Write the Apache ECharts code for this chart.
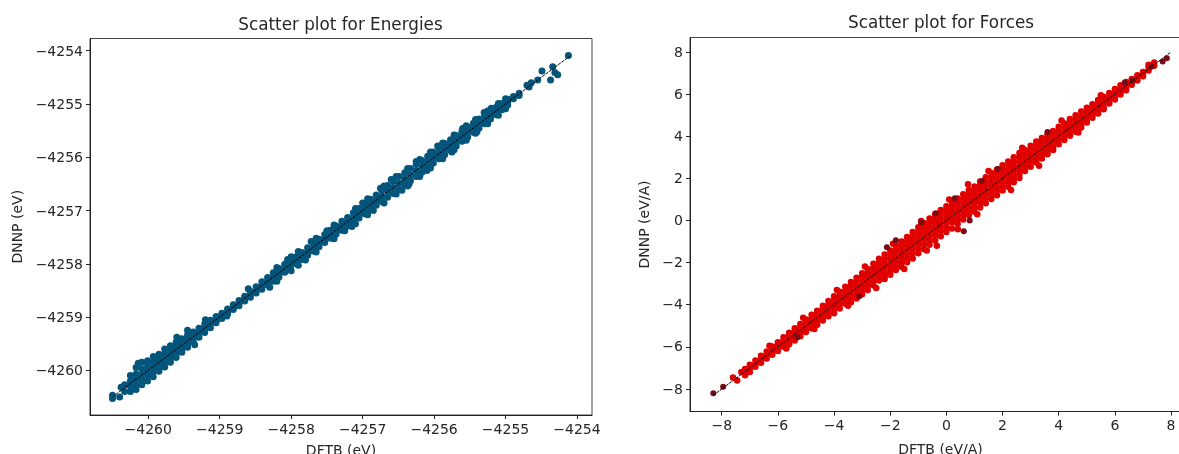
<!DOCTYPE html>
<html><head><meta charset="utf-8">
<style>html,body{margin:0;padding:0;background:#fff;overflow:hidden}#c{width:1179px;height:454px;filter:blur(0.35px)}</style>
<script src="https://cdn.jsdelivr.net/npm/echarts@6/dist/echarts.min.js"></script>
</head><body><div id="c"></div>
<script>
const energyTicksX=[-4260,-4259,-4258,-4257,-4256,-4255,-4254];
const energyTicksY=[-4260,-4259,-4258,-4257,-4256,-4255,-4254];
const forceTicks=[-8,-6,-4,-2,0,2,4,6,8];
const energyLine=[[-4260.5,-4260.5],[-4254.1,-4254.1]];
const forceLine=[[-8.3,-8.3],[8,8]];
const energyColumns=[
[-4260.50,[-4260.47,-4260.53]],[-4260.40,[-4260.50]],[-4260.38,[-4260.32]],[-4260.33,[-4260.40,-4260.27]],
[-4260.25,[-4260.10,-4260.20,-4260.30,-4260.40]],[-4260.17,[-4259.95,-4260.07,-4260.17,-4260.27,-4260.36]],
[-4260.09,[-4259.85,-4259.97,-4260.08,-4260.18,-4260.27]],[-4260.01,[-4259.82,-4259.92,-4260.01,-4260.10,-4260.20]],
[-4259.93,[-4259.74,-4259.84,-4259.93,-4260.03,-4260.12]],[-4259.85,[-4259.70,-4259.78,-4259.85,-4259.95,-4260.02]],
[-4259.77,[-4259.60,-4259.69,-4259.77,-4259.86,-4259.94]],[-4259.69,[-4259.54,-4259.62,-4259.70,-4259.78,-4259.85]],
[-4259.61,[-4259.47,-4259.55,-4259.62,-4259.70,-4259.76]],[-4259.53,[-4259.41,-4259.47,-4259.54,-4259.61,-4259.66]],
[-4259.45,[-4259.34,-4259.39,-4259.46,-4259.52,-4259.57]],[-4259.37,[-4259.28,-4259.37,-4259.46]],
[-4259.29,[-4259.21,-4259.29,-4259.38]],[-4259.21,[-4259.13,-4259.21,-4259.29]],[-4259.13,[-4259.06,-4259.13,-4259.20]],
[-4259.05,[-4258.99,-4259.06,-4259.11]],[-4258.97,[-4258.93,-4258.98,-4259.03]],[-4258.89,[-4258.85,-4258.90,-4258.94]],
[-4258.81,[-4258.77,-4258.82,-4258.86]],[-4258.73,[-4258.69,-4258.74,-4258.79]],[-4258.65,[-4258.61,-4258.66,-4258.70]],
[-4258.57,[-4258.52,-4258.57,-4258.63]],[-4258.49,[-4258.43,-4258.49,-4258.55]],[-4258.41,[-4258.34,-4258.41,-4258.48]],
[-4258.33,[-4258.26,-4258.33,-4258.40]],[-4258.25,[-4258.17,-4258.25,-4258.33]],[-4258.17,[-4258.09,-4258.17,-4258.25]],
[-4258.09,[-4258.01,-4258.09,-4258.16]],[-4258.01,[-4257.94,-4258.01,-4258.08]],[-4257.93,[-4257.87,-4257.93,-4258.00]],
[-4257.85,[-4257.79,-4257.85,-4257.92]],[-4257.77,[-4257.70,-4257.78,-4257.84]],[-4257.69,[-4257.60,-4257.69,-4257.76]],
[-4257.61,[-4257.54,-4257.61,-4257.68]],[-4257.53,[-4257.45,-4257.53,-4257.60]],[-4257.45,[-4257.37,-4257.45,-4257.52]],
[-4257.37,[-4257.29,-4257.37,-4257.44]],[-4257.29,[-4257.20,-4257.29,-4257.37]],[-4257.21,[-4257.13,-4257.21,-4257.29]],
[-4257.13,[-4257.04,-4257.13,-4257.21]],[-4257.05,[-4256.96,-4257.05,-4257.14]],[-4256.97,[-4256.87,-4256.97,-4257.06]],
[-4256.89,[-4256.79,-4256.89,-4256.98]],[-4256.81,[-4256.71,-4256.81,-4256.90]],[-4256.73,[-4256.62,-4256.73,-4256.83]],
[-4256.65,[-4256.53,-4256.64,-4256.75]],[-4256.57,[-4256.45,-4256.57,-4256.68]],[-4256.49,[-4256.36,-4256.49,-4256.60]],
[-4256.41,[-4256.29,-4256.41,-4256.52]],[-4256.33,[-4256.21,-4256.33,-4256.44]],[-4256.25,[-4256.13,-4256.25,-4256.36]],
[-4256.17,[-4256.06,-4256.17,-4256.28]],[-4256.09,[-4255.98,-4256.09,-4256.19]],[-4256.01,[-4255.90,-4256.01,-4256.11]],
[-4255.93,[-4255.82,-4255.93,-4256.03]],[-4255.85,[-4255.74,-4255.85,-4255.95]],[-4255.77,[-4255.67,-4255.77,-4255.87]],
[-4255.69,[-4255.59,-4255.69,-4255.79]],[-4255.61,[-4255.51,-4255.61,-4255.70]],[-4255.53,[-4255.43,-4255.53,-4255.62]],
[-4255.45,[-4255.36,-4255.45,-4255.53]],[-4255.37,[-4255.28,-4255.37,-4255.45]],[-4255.29,[-4255.21,-4255.29,-4255.37]],
[-4255.21,[-4255.13,-4255.21,-4255.28]],[-4255.13,[-4255.06,-4255.13,-4255.20]],[-4255.05,[-4254.99,-4255.05,-4255.11]],
[-4254.97,[-4254.91,-4254.97,-4255.02]],[-4254.89,[-4254.86,-4254.90]],[-4254.81,[-4254.80,-4254.84]],
[-4254.70,[-4254.65]],[-4254.67,[-4254.68]],[-4254.64,[-4254.60]],[-4254.55,[-4254.55]],[-4254.49,[-4254.38]],
[-4254.37,[-4254.55]],[-4254.34,[-4254.30]],[-4254.31,[-4254.41]],[-4254.27,[-4254.45]],[-4254.12,[-4254.09]],
[-4259.6,[-4259.38]],[-4259.35,[-4259.52]],[-4259.45,[-4259.25]],[-4259.2,[-4259.05]],[-4258.9,[-4258.98]],[-4258.6,[-4258.47]],
[-4258.3,[-4258.44]],[-4258.05,[-4257.92]],[-4257.8,[-4257.93]],[-4257.72,[-4257.58]],[-4257.5,[-4257.38]],[-4257.25,[-4257.38]],
[-4257.15,[-4257.3]],[-4257.0,[-4256.86]],[-4256.85,[-4257.0]],[-4256.75,[-4256.58]],[-4256.6,[-4256.42]],[-4256.45,[-4256.62]],
[-4256.35,[-4256.5]],[-4256.25,[-4256.08]],[-4256.1,[-4256.25]],[-4255.95,[-4255.79]],[-4255.75,[-4255.9]],[-4255.6,[-4255.46]],
[-4255.4,[-4255.52]],[-4255.3,[-4255.16]],[-4255.2,[-4255.08]],[-4260.14,[-4259.87]],
[-4258.2,[-4258.07,-4258.33]],[-4258.0,[-4257.87,-4258.13]],[-4257.9,[-4257.77,-4258.03]],[-4257.65,[-4257.52,-4257.78]],
[-4257.4,[-4257.27,-4257.53]],[-4257.1,[-4256.96,-4257.25]],[-4256.93,[-4256.78,-4257.08]],[-4256.7,[-4256.54,-4256.86]],
[-4256.53,[-4256.36,-4256.69]],[-4256.37,[-4256.21,-4256.54]],[-4256.2,[-4256.04,-4256.36]],[-4256.05,[-4255.9,-4256.2]],
[-4255.88,[-4255.73,-4256.03]],[-4255.72,[-4255.58,-4255.86]],[-4255.55,[-4255.41,-4255.68]],[-4255.42,[-4255.29,-4255.55]],
[-4255.25,[-4255.13,-4255.37]],[-4255.1,[-4254.99,-4255.21]],[-4255.0,[-4254.9,-4255.09]]
];
const forceColumns=[
[-7.6,[-7.45]],[-7.45,[-7.6]],[-7.3,[-7.2]],[-7.17,[-7.05,-7.25,-7.35]],[-7.0,[-6.85,-7.0,-7.2]],[-6.8,[-6.65,-6.8,-6.95]],
[-6.6,[-6.42,-6.6,-6.75]],[-6.4,[-6.22,-6.4,-6.55]],[-6.2,[-5.98,-6.12,-6.25,-6.38]],[-6.0,[-5.78,-5.92,-6.05,-6.2]],
[-5.8,[-5.55,-5.7,-5.85,-6.0]],[-5.6,[-5.33,-5.48,-5.62,-5.78,-5.88]],[-5.4,[-5.12,-5.27,-5.42,-5.58,-5.7]],
[-5.2,[-4.92,-5.05,-5.2,-5.35,-5.5]],[-5.0,[-4.7,-4.85,-5.0,-5.17,-5.3]],[-4.8,[-4.48,-4.65,-4.8,-4.98,-5.12]],
[-4.6,[-4.28,-4.44,-4.6,-4.78,-4.95]],[-4.4,[-4.05,-4.22,-4.4,-4.58,-4.75]],[-4.2,[-3.82,-4.0,-4.18,-4.36,-4.55]],
[-4.0,[-3.6,-3.8,-4.0,-4.2,-4.4]],[-3.8,[-3.38,-3.58,-3.78,-3.98,-4.18]],[-3.6,[-3.15,-3.35,-3.55,-3.75,-3.95]],
[-3.4,[-2.92,-3.12,-3.32,-3.52,-3.72,-3.88]],[-3.2,[-2.72,-2.92,-3.12,-3.32,-3.52,-3.7]],[-3.0,[-2.5,-2.7,-2.9,-3.1,-3.3,-3.5]],
[-2.8,[-2.3,-2.5,-2.7,-2.9,-3.1,-3.3]],[-2.6,[-2.05,-2.25,-2.45,-2.65,-2.85,-3.08]],[-2.4,[-1.82,-2.02,-2.22,-2.42,-2.62,-2.85]],
[-2.2,[-1.62,-1.82,-2.02,-2.22,-2.42,-2.62,-2.78]],[-2.0,[-1.42,-1.62,-1.82,-2.02,-2.22,-2.42,-2.58]],
[-1.8,[-1.18,-1.38,-1.58,-1.78,-1.98,-2.18,-2.35]],[-1.6,[-1.0,-1.2,-1.4,-1.6,-1.8,-2.0,-2.2]],
[-1.4,[-0.78,-0.98,-1.18,-1.38,-1.58,-1.78,-1.98]],[-1.2,[-0.55,-0.75,-0.95,-1.15,-1.35,-1.55,-1.8]],
[-1.0,[-0.32,-0.52,-0.72,-0.92,-1.12,-1.32,-1.55]],[-0.8,[-0.12,-0.32,-0.52,-0.72,-0.92,-1.12,-1.35]],
[-0.6,[0.1,-0.1,-0.3,-0.5,-0.7,-0.9,-1.15]],[-0.4,[0.3,0.1,-0.1,-0.3,-0.5,-0.7,-0.95]],
[-0.34,[-1.2]],[-0.2,[0.5,0.3,0.1,-0.1,-0.3,-0.5,-0.75]],[0,[0.68,0.48,0.28,0.08,-0.12,-0.32,-0.55]],
[0.2,[0.9,0.7,0.5,0.3,0.1,-0.1,-0.38]],[0.41,[-0.41]],[0.4,[1.05,0.85,0.65,0.45,0.25,0.05,-0.15]],
[0.6,[1.25,1.05,0.85,0.65,0.45,0.25,0.05]],[0.77,[1.72]],[0.8,[1.45,1.25,1.05,0.85,0.65,0.45,0.25]],
[1.0,[1.62,1.42,1.22,1.02,0.82,0.62,0.42]],[1.2,[1.85,1.65,1.45,1.25,1.05,0.85,0.62]],[1.4,[2.05,1.85,1.65,1.45,1.25,1.05,0.82]],
[1.6,[2.25,2.05,1.85,1.65,1.45,1.25,1.02]],[1.8,[2.42,2.22,2.02,1.82,1.62,1.42,1.2]],[2.0,[2.62,2.42,2.22,2.02,1.82,1.62,1.42]],
[2.2,[2.8,2.6,2.4,2.2,2.0,1.8,1.6]],[2.4,[3.0,2.8,2.6,2.4,2.2,2.0,1.82]],[2.6,[3.2,3.0,2.8,2.6,2.4,2.2,2.02]],
[2.8,[3.35,3.15,2.95,2.75,2.55,2.35]],[3.0,[3.55,3.35,3.15,2.95,2.75,2.55]],[3.2,[3.75,3.55,3.35,3.15,2.95,2.75]],
[3.4,[3.92,3.72,3.52,3.32,3.12,2.95]],[3.6,[4.1,3.9,3.7,3.5,3.3,3.15]],[3.8,[4.25,4.05,3.85,3.65,3.45,3.35]],
[4.0,[4.45,4.25,4.05,3.85,3.62]],[4.2,[4.62,4.42,4.22,4.02,3.82]],[4.4,[4.82,4.62,4.42,4.22,4.02]],[4.6,[5.0,4.8,4.6,4.4,4.22]],
[4.8,[5.18,4.98,4.78,4.58,4.42]],[5.0,[5.35,5.15,4.98,4.8,4.65]],[5.2,[5.52,5.35,5.18,5.0,4.88]],[5.4,[5.72,5.55,5.38,5.2,5.08]],
[5.6,[5.88,5.72,5.55,5.38,5.28]],[5.8,[6.05,5.88,5.72,5.55]],[6.0,[6.25,6.08,5.92,5.75]],[6.2,[6.42,6.25,6.1,5.98]],
[6.4,[6.58,6.42,6.28,6.18]],[6.6,[6.72,6.6,6.45]],[6.8,[6.9,6.78,6.65]],[7.0,[7.05,6.95,6.85]],[7.2,[7.4,7.28,7.12]],[7.4,[7.5,7.35]],
[-6.3,[-5.95]],[-5.7,[-6.08]],[-5.1,[-4.62]],[-4.7,[-5.15]],[-3.9,[-3.3]],[-3.5,[-4.05]],[-2.9,[-2.18]],[-2.5,[-3.2]],[-1.9,[-1.1]],
[-1.5,[-2.3]],[-0.9,[-0.02]],[-0.7,[-1.42]],[0.1,[1.0]],[1.1,[0.3]],[1.5,[2.35]],[2.3,[1.45]],[2.7,[3.45]],[3.3,[2.6]],[4.1,[4.75]],[4.7,[4.18]],[5.5,[5.95]]
];
const forceDark=[[-8.3,-8.2],[-7.95,-7.9],[-2.12,-1.27],[-1.8,-0.94],[-0.38,0.35],[0.3,1.06],[0.62,-0.51],[0.83,0],[1.26,1.87],[1.83,2.44],[3.6,4.2],[6.35,6.55],[6.63,6.65],[7.3,7.3],[7.85,7.7],[7.7,7.55],[-5.3,-5.55],[-3.1,-3.6],[-0.9,-0.1]];
const flat=cols=>cols.flatMap(([x,ys])=>ys.map(y=>[x,y]));
const sci=v=>String(v).replace('-','\u2212');
const INK='#262626',FONT='"DejaVu Sans"';
function axisOpt(i,min,max,ticks,name,gap,labelExtra){return{gridIndex:i,type:'value',min,max,name,nameLocation:'center',nameGap:gap,
 nameTextStyle:{color:INK,fontFamily:FONT,fontSize:14},splitLine:{show:false},
 axisLine:{show:true,onZero:false,lineStyle:{color:'#222',width:1}},axisTick:{show:true,length:4,customValues:ticks,lineStyle:{color:'#222',width:1}},
 axisLabel:Object.assign({customValues:ticks,formatter:sci,color:INK,fontFamily:FONT,fontSize:14,margin:7},labelExtra)};}
const chart=echarts.init(document.getElementById('c'),null,{renderer:'canvas'});
chart.setOption({animation:false,backgroundColor:'#fff',
 title:[
  {text:'Scatter plot for Energies',left:335.5,top:12,textAlign:'center',textStyle:{fontFamily:FONT,fontWeight:'normal',fontSize:16.8,color:INK}},
  {text:'Scatter plot for Forces',left:936,top:10,textAlign:'center',textStyle:{fontFamily:FONT,fontWeight:'normal',fontSize:16.8,color:INK}}],
 grid:[
  {left:90,top:38.5,width:502,height:376.5,show:true,borderColor:'#444',borderWidth:1,backgroundColor:'#fff',outerBoundsMode:'none',containLabel:false},
  {left:690,top:37.5,width:501,height:374,show:true,borderColor:'#444',borderWidth:1,backgroundColor:'#fff',outerBoundsMode:'none',containLabel:false}],
 xAxis:[axisOpt(0,-4260.815,-4253.79,energyTicksX,'DFTB (eV)',29,{margin:8.5}),axisOpt(1,-9.13,8.71,forceTicks,'DFTB (eV/A)',32,{margin:8})],
 yAxis:[axisOpt(0,-4260.84,-4253.77,energyTicksY,'DNNP (eV)',65,{verticalAlign:'top',lineHeight:3}),axisOpt(1,-9.07,8.69,forceTicks,'DNNP (eV/A)',38,{verticalAlign:'top',lineHeight:2})],
 series:[
  {type:'scatter',xAxisIndex:0,yAxisIndex:0,data:flat(energyColumns),symbolSize:7,itemStyle:{color:'#04557c',opacity:1},silent:true},
  {type:'line',xAxisIndex:0,yAxisIndex:0,data:energyLine,showSymbol:false,lineStyle:{color:'#000',width:1,type:[3,1]},silent:true},
  {type:'scatter',xAxisIndex:1,yAxisIndex:1,data:flat(forceColumns),symbolSize:6.5,itemStyle:{color:'#e00000',opacity:1},silent:true},
  {type:'scatter',xAxisIndex:1,yAxisIndex:1,data:forceDark,symbolSize:6,itemStyle:{color:'#7a0a14',opacity:1},silent:true},
  {type:'line',xAxisIndex:1,yAxisIndex:1,data:forceLine,showSymbol:false,lineStyle:{color:'#000',width:1,type:[3,1]},silent:true}
 ]});
</script></body></html>
